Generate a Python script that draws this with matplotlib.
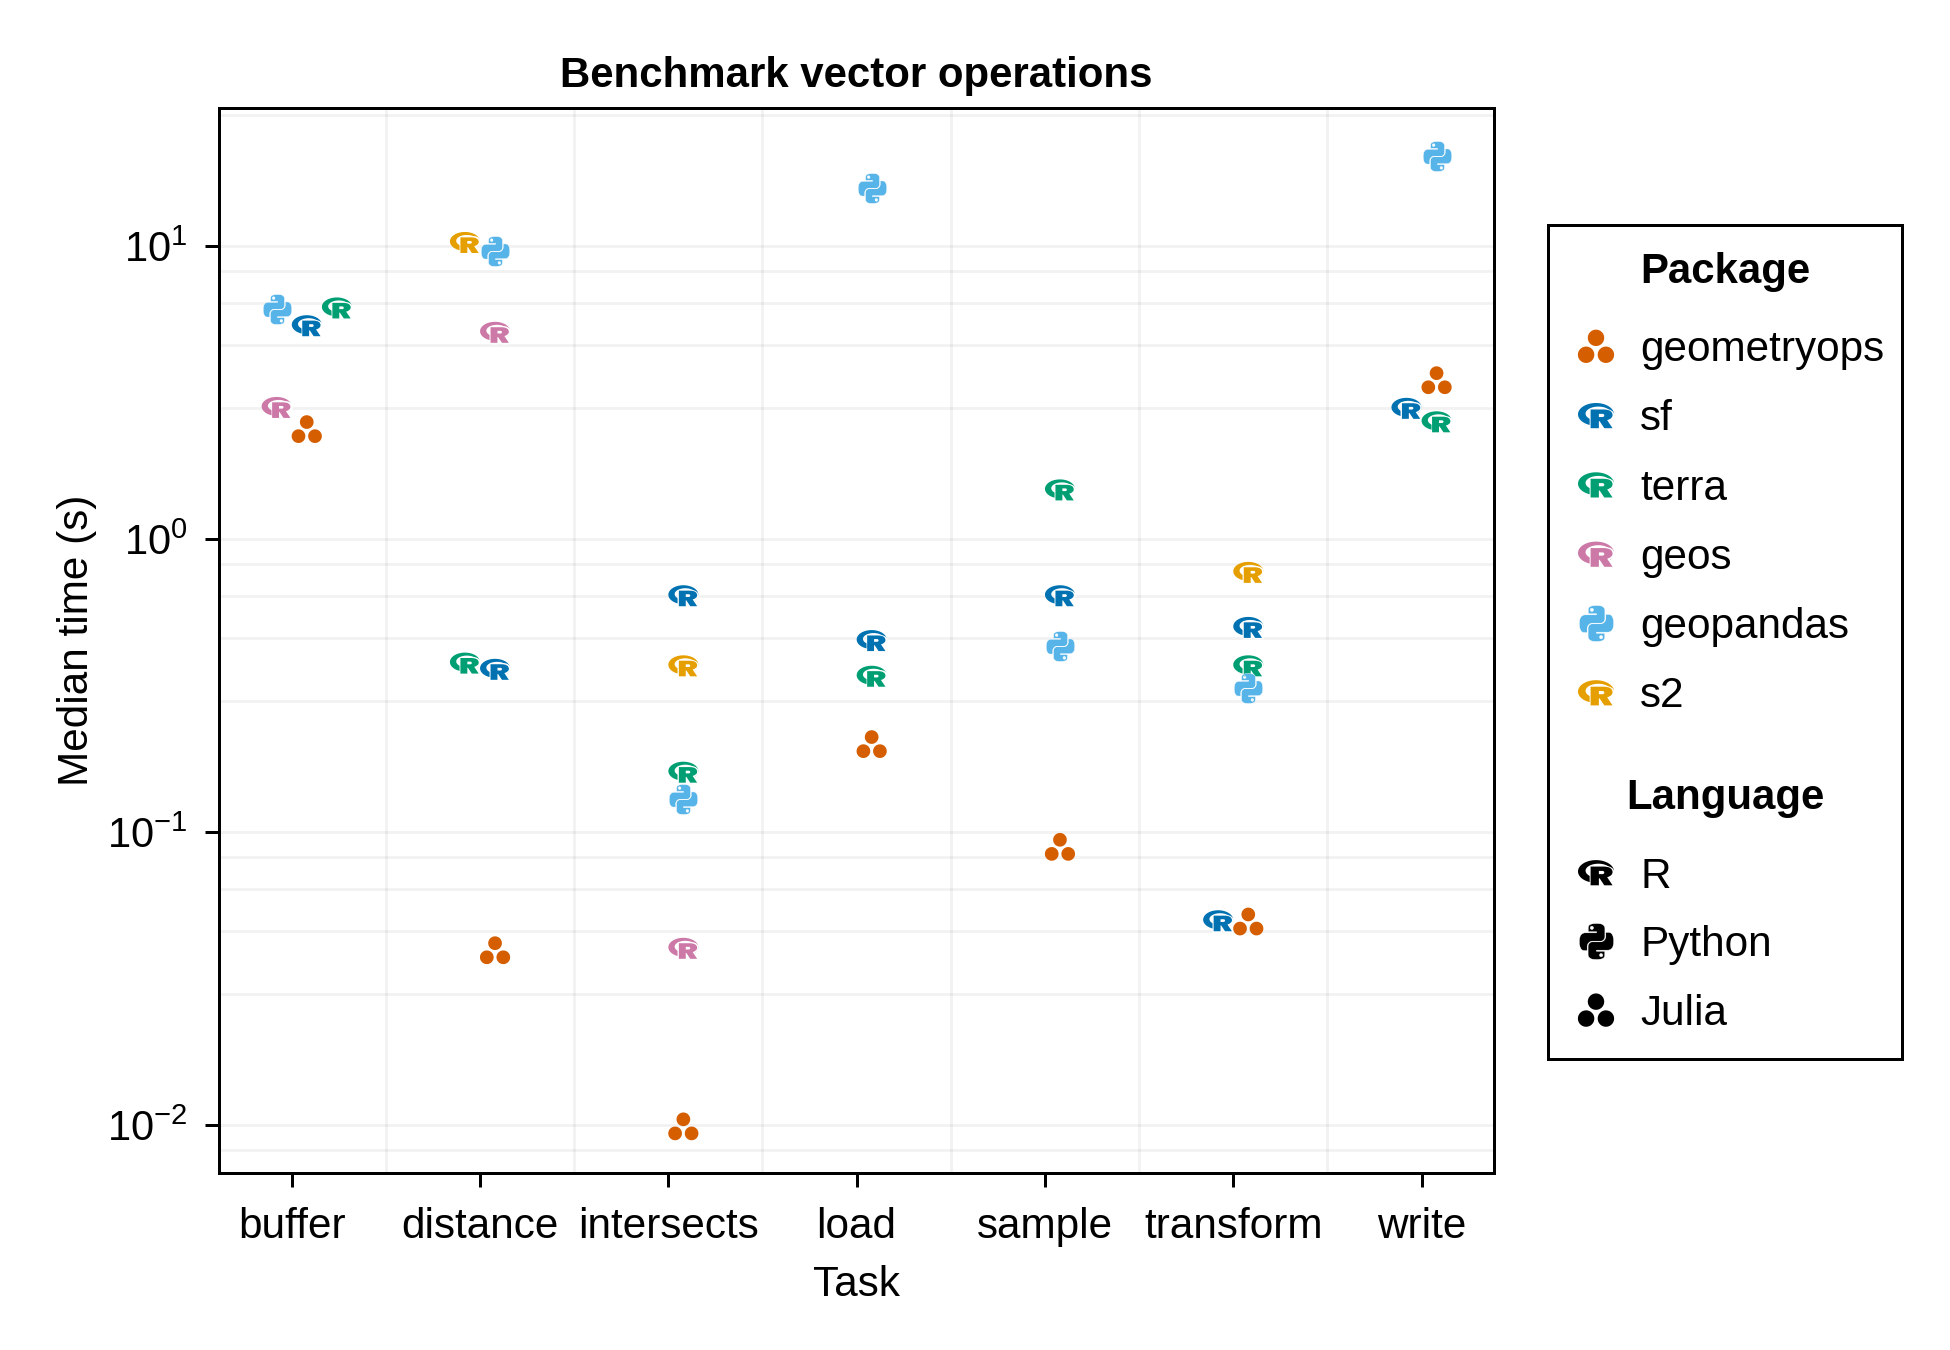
import matplotlib
matplotlib.use("Agg")
import matplotlib.pyplot as plt
import numpy as np
from matplotlib.path import Path

plt.rcParams["font.family"] = ["Liberation Sans", "DejaVu Sans"]
plt.rcParams["mathtext.fontset"] = "custom"
plt.rcParams["mathtext.rm"] = "Liberation Sans"
plt.rcParams["mathtext.default"] = "regular"

# values
tasks = ["buffer", "distance", "intersects", "load", "sample", "transform", "write"]

geometryops_task = ["buffer", "distance", "intersects", "load", "sample", "transform", "write"]
geometryops_slot = [1, 1, 1, 1, 1, 1, 1]
geometryops_time = [2.37, 0.0395, 0.0099, 0.1995, 0.089, 0.0495, 3.48]

sf_task = ["buffer", "distance", "intersects", "load", "sample", "transform", "transform", "write"]
sf_slot = [1, 1, 1, 1, 1, 1, 0, 0]
sf_time = [5.34, 0.359, 0.64, 0.45, 0.64, 0.499, 0.0498, 2.79]

terra_task = ["buffer", "distance", "intersects", "load", "sample", "transform", "write"]
terra_slot = [2, 0, 1, 1, 1, 1, 1]
terra_time = [6.14, 0.377, 0.16, 0.34, 1.47, 0.369, 2.51]

geos_task = ["buffer", "distance", "intersects"]
geos_slot = [0, 1, 1]
geos_time = [2.81, 5.07, 0.0401]

geopandas_task = ["buffer", "distance", "intersects", "load", "sample", "transform", "write"]
geopandas_slot = [0, 1, 1, 1, 1, 1, 1]
geopandas_time = [6.08, 9.6, 0.13, 15.8, 0.43, 0.309, 20.2]

s2_task = ["distance", "intersects", "transform"]
s2_slot = [0, 1, 1]
s2_time = [10.27, 0.369, 0.769]

package_names = ["geometryops", "sf", "terra", "geos", "geopandas", "s2"]
package_colors = ["#D55E00", "#0072B2", "#009E73", "#CC79A7", "#56B4E9", "#E69F00"]
package_langs = ["Julia", "R", "R", "R", "Python", "R"]
language_names = ["R", "Python", "Julia"]


# polygon for an ellipse, ccw or cw
def ellipse(cx, cy, rx, ry, ccw=True):
    t = np.linspace(0, 2 * np.pi, 65)
    if not ccw:
        t = t[::-1]
    return Path(np.column_stack([cx + rx * np.cos(t), cy + ry * np.sin(t)]), closed=True)


# R logo: ring and the letter on top
R_RING = Path.make_compound_path(ellipse(0, 0.07, 1, 0.63), ellipse(0.13, 0.11, 0.71, 0.39, ccw=False))

M, L, C, Z = Path.MOVETO, Path.LINETO, Path.CURVE3, Path.CLOSEPOLY
R_LETTER = Path(
    [(-0.3, 0.34), (0.42, 0.34), (0.92, 0.34), (0.92, 0.03), (0.92, -0.16), (0.62, -0.25),
     (0.92, -0.7), (0.46, -0.7), (0.2, -0.31), (0.16, -0.31), (0.16, -0.7), (-0.3, -0.7), (-0.3, 0.34),
     (0.16, 0.1), (0.16, -0.08), (0.36, -0.08), (0.46, -0.08), (0.46, 0.01), (0.46, 0.1), (0.36, 0.1), (0.16, 0.1)],
    [M, L, C, C, C, C, L, L, L, L, L, L, Z,
     M, L, L, C, C, C, C, Z],
)

# python logo, one snake, the other is the same turned by 180 degrees
C4 = Path.CURVE4
snake_xy = [
    (54.92, 0), (50.34, 0.02), (45.96, 0.41), (42.11, 1.09),
    (30.76, 3.10), (28.70, 7.29), (28.70, 15.03),
    (28.70, 25.25), (55.51, 25.25), (55.51, 28.66), (18.64, 28.66),
    (10.85, 28.66), (4.02, 33.34), (1.89, 42.25),
    (-0.57, 52.46), (-0.68, 58.84), (1.89, 69.5),
    (3.80, 77.44), (8.35, 83.09), (16.14, 83.09),
    (25.36, 83.09), (25.36, 70.84),
    (25.36, 61.99), (33.02, 54.18), (42.11, 54.18),
    (68.89, 54.18),
    (76.34, 54.18), (82.30, 48.04), (82.30, 40.55),
    (82.30, 15.02),
    (82.30, 7.75), (76.17, 2.30), (68.89, 1.08),
    (64.28, 0.33), (59.50, -0.02), (54.92, 0),
]
snake_codes = [M, C4, C4, C4, C4, C4, C4, L, L, L, L, C4, C4, C4, C4, C4, C4, C4, C4, C4, L, L,
               C4, C4, C4, L, C4, C4, C4, L, C4, C4, C4, C4, C4, C4]
snake = np.array(snake_xy)
snake = np.column_stack([(snake[:, 0] - 55.3) / 55.2 * 0.955, (55.2 - snake[:, 1]) / 55.2])
eye = ellipse((40.42 - 55.3) / 55.2 * 0.955, (55.2 - 13.35) / 55.2, 0.09, 0.09, ccw=False)
top_snake = Path.make_compound_path(Path(snake, snake_codes), eye)
PYTHON = Path.make_compound_path(top_snake, Path(-top_snake.vertices, top_snake.codes))

# julia logo, three dots
JULIA = Path.make_compound_path(ellipse(0, 0.47, 0.456, 0.456), ellipse(-0.55, -0.47, 0.456, 0.456),
                                ellipse(0.55, -0.47, 0.456, 0.456))


# scatter rescales a custom marker by its largest vertex, so undo that here
def stamp(ax, path, x, y, unit, color, edge=0.0):
    big = np.max(np.abs(path.vertices))
    ax.scatter(x, y, marker=path, s=(2 * big * unit) ** 2, c=color,
               edgecolors="white" if edge > 0 else "none", linewidths=edge, zorder=3)


def draw_logo(ax, lang, x, y, unit, color):
    if lang == "R":
        stamp(ax, R_RING, x, y, unit, color)
        # white halo first, then the full letter again so the halo does not thin it
        stamp(ax, R_LETTER, x, y, unit, color, edge=0.7)
        stamp(ax, R_LETTER, x, y, unit, color)
    elif lang == "Python":
        stamp(ax, PYTHON, x, y, unit, color, edge=0.1)
    else:
        stamp(ax, JULIA, x, y, unit, color)


fig = plt.figure(figsize=(6.5, 4.5), dpi=300)
W, H = 1950.0, 1350.0
ax = fig.add_axes([219 / W, 1 - 1173 / H, (1494 - 219) / W, (1173 - 108) / H])

all_tasks = [geometryops_task, sf_task, terra_task, geos_task, geopandas_task, s2_task]
all_slots = [geometryops_slot, sf_slot, terra_slot, geos_slot, geopandas_slot, s2_slot]
all_times = [geometryops_time, sf_time, terra_time, geos_time, geopandas_time, s2_time]

for i in range(len(package_names)):
    xs = [tasks.index(t) + 1 + 0.16 * s - 0.08 for t, s in zip(all_tasks[i], all_slots[i])]
    draw_logo(ax, package_langs[i], xs, all_times[i], 3.6, package_colors[i])

ax.set_yscale("log")
ax.set_xlim(0.614, 7.385)
ax.set_ylim(10 ** -2.1635, 10 ** 1.4704)

# axis ticks
ax.set_xticks(range(1, 8))
ax.set_xticklabels(tasks, fontsize=10.15)
ax.set_xticks(np.arange(1.5, 7.5, 1), minor=True)
major = [0.01, 0.1, 1, 10]
ax.set_yticks(major)
ax.set_yticklabels(["$10^{-2}$", "$10^{-1}$", "$10^{0}$", "$10^{1}$"], fontsize=10)
ax.set_yticks([d * m for d in [0.001, 0.01, 0.1, 1, 10] for m in [2.8, 4.6, 6.4, 8.2]
               if 10 ** -2.1635 < d * m < 10 ** 1.4704], minor=True)
ax.set_yticklabels([], minor=True)
ax.tick_params(axis="x", which="major", length=3.4, width=0.72, pad=4.8)
ax.tick_params(axis="y", which="major", length=3.4, width=0.72, pad=4.1)
ax.tick_params(axis="both", which="minor", length=0)

# grid: no major lines on x
ax.set_axisbelow(True)
ax.grid(True, which="minor", axis="x", color="black", alpha=0.05, lw=0.7)
ax.grid(True, which="both", axis="y", color="black", alpha=0.05, lw=0.7)
for s in ax.spines.values():
    s.set_linewidth(0.72)

ax.set_title("Benchmark vector operations", fontsize=10.1, fontweight="bold", pad=5.1)
ax.set_xlabel("Task", fontsize=10.15, labelpad=4.2)
ax.set_ylabel("Median time (s)", fontsize=10.15, labelpad=2.5)

# legend panel, drawn in picture pixels
leg = fig.add_axes([1548 / W, 1 - 1059 / H, (1902 - 1548) / W, (1059 - 225) / H])
leg.set_xlim(1548, 1902)
leg.set_ylim(1059, 225)
leg.set_xticks([])
leg.set_yticks([])
for s in leg.spines.values():
    s.set_linewidth(0.72)

leg.text(1725, 283, "Package", fontsize=10.1, fontweight="bold", ha="center", va="baseline")
y = 346.3
for i in range(len(package_names)):
    draw_logo(leg, package_langs[i], 1596, y, 4.32, package_colors[i])
    leg.text(1640, y + 14.7, package_names[i], fontsize=10.15, ha="left", va="baseline")
    y += 69.3

leg.text(1725, 809, "Language", fontsize=10.1, fontweight="bold", ha="center", va="baseline")
y = 872.7
for name in language_names:
    draw_logo(leg, name, 1596, y, 4.32, "black")
    leg.text(1640, y + 15, name, fontsize=10.15, ha="left", va="baseline")
    y += 68.7

leg.set_xlim(1548, 1902)
leg.set_ylim(1059, 225)

fig.savefig("out.png", dpi=300)
